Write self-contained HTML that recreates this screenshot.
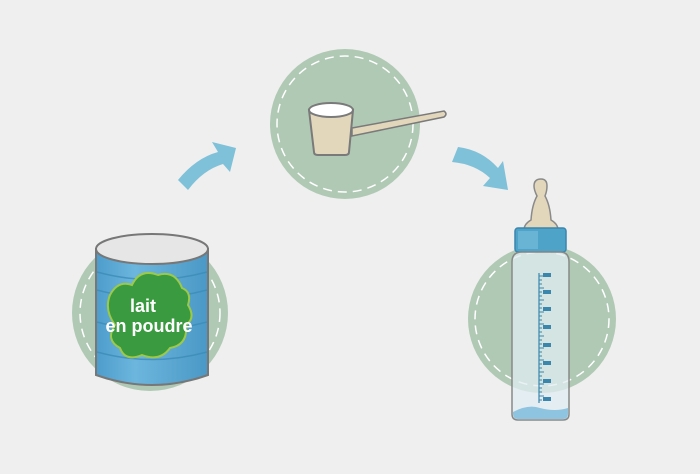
<!DOCTYPE html>
<html><head><style>
html,body{margin:0;padding:0;background:#efefef;}
svg{display:block}
</style></head><body>
<svg width="700" height="474" viewBox="0 0 700 474" xmlns="http://www.w3.org/2000/svg">
<defs>
<linearGradient id="can" x1="0" x2="1" y1="0" y2="0">
<stop offset="0" stop-color="#4d9ccb"/><stop offset="0.35" stop-color="#6cb6de"/><stop offset="1" stop-color="#4a98c6"/>
</linearGradient>
</defs>
<rect width="700" height="474" fill="#efefef"/>
<circle cx="150" cy="313" r="78" fill="#b0c9b4"/>
<circle cx="150" cy="313" r="70" fill="none" stroke="#fff" stroke-width="1.5" stroke-dasharray="9 6"/>
<circle cx="345" cy="124" r="75" fill="#b0c9b4"/>
<circle cx="345" cy="124" r="68" fill="none" stroke="#fff" stroke-width="1.5" stroke-dasharray="9 6"/>
<circle cx="542" cy="319" r="74" fill="#b0c9b4"/>
<circle cx="542" cy="319" r="67" fill="none" stroke="#fff" stroke-width="1.5" stroke-dasharray="9 6"/>
<path d="M178,180 Q196,158 218,152 L212,142 L236,148 L230,172 L223,164 Q203,170 188,190 Z" fill="#7fc1d9"/>
<path d="M458,147 Q482,150 498,168 L503,161 L508,190 L483,186 L490,178 Q475,164 452,162 Z" fill="#7fc1d9"/>
<path d="M352,128 L444,111 Q448,114 444,117 L352,136 Z" fill="#e2d6bb" stroke="#7a7a7a" stroke-width="1.5"/>
<path d="M309,110 L314,152 Q314,155 318,155 L345,155 Q349,155 349,152 L353,110 Z" fill="#e2d6bb" stroke="#7a7a7a" stroke-width="2"/>
<ellipse cx="331" cy="110" rx="22" ry="7" fill="#fff" stroke="#7a7a7a" stroke-width="2"/>
<path d="M96,249 L96,375 Q152,395 208,375 L208,249 Z" fill="url(#can)" stroke="#777" stroke-width="2"/>
<g stroke="#3d8cb8" stroke-width="1.5" fill="none" opacity="0.8">
<path d="M97,290 Q152,305 207,290"/><path d="M97,322 Q152,337 207,322"/><path d="M97,352 Q152,367 207,352"/><path d="M97,272 Q152,287 207,272"/>
</g>
<path d="M110,295 Q118,280 132,285 Q140,268 158,275 Q175,270 182,288 Q192,292 188,305 Q196,318 186,325 Q188,345 170,348 Q160,362 142,355 Q125,362 120,348 Q105,340 115,325 Q104,310 110,295 Z" fill="#3a9a3f" stroke="#9cc94a" stroke-width="2"/>
<ellipse cx="152" cy="249" rx="56" ry="15" fill="#e6e6e6" stroke="#777" stroke-width="2"/>
<text x="143" y="312" font-family="Liberation Sans, sans-serif" font-weight="bold" font-size="18" fill="#fff" text-anchor="middle">lait</text>
<text x="149" y="332" font-family="Liberation Sans, sans-serif" font-weight="bold" font-size="18" fill="#fff" text-anchor="middle">en poudre</text>
<path d="M531,220 Q532,205 537,196 Q534,190 534,186 Q534,179 541,179 Q547,179 547,186 Q547,191 545,196 Q550,205 551,220 Q558,224 558,230 L524,230 Q524,224 531,220 Z" fill="#e2d6bb" stroke="#8a8a8a" stroke-width="1.5"/>
<rect x="515" y="228" width="51" height="24" rx="3" fill="#4ea3c9" stroke="#3a86ad" stroke-width="1.5"/>
<rect x="518" y="231" width="20" height="18" fill="#7cc0dd" opacity="0.6"/>
<path d="M512,262 Q512,252 522,252 L560,252 Q569,252 569,262 L569,414 Q569,420 563,420 L518,420 Q512,420 512,414 Z" fill="#e0ecf1" fill-opacity="0.75" stroke="#888" stroke-width="1.5"/>
<path d="M513,412 Q528,404 540,408 Q555,412 568,408 L568,414 Q568,419 563,419 L518,419 Q513,419 513,414 Z" fill="#8fc4e0"/>
<line x1="539" y1="273" x2="539" y2="403" stroke="#3a86ad" stroke-width="1.2"/>
<g stroke="#3a86ad" stroke-width="1">
<path d="M539,276h5M539,280h3M539,284h3M539,288h5M539,292h3M539,296h3M539,300h5M539,304h3M539,308h3M539,312h5M539,316h3M539,320h3M539,324h5M539,328h3M539,332h3M539,336h5M539,340h3M539,344h3M539,348h5M539,352h3M539,356h3M539,360h5M539,364h3M539,368h3M539,372h5M539,376h3M539,380h3M539,384h5M539,388h3M539,392h3M539,396h5M539,400h3"/>
</g>
<g fill="#3a86ad">
<rect x="543" y="273" width="8" height="4"/><rect x="543" y="290" width="8" height="4"/><rect x="543" y="307" width="8" height="4"/><rect x="543" y="325" width="8" height="4"/><rect x="543" y="343" width="8" height="4"/><rect x="543" y="361" width="8" height="4"/><rect x="543" y="379" width="8" height="4"/><rect x="543" y="397" width="8" height="4"/>
</g>
</svg>
</body></html>
